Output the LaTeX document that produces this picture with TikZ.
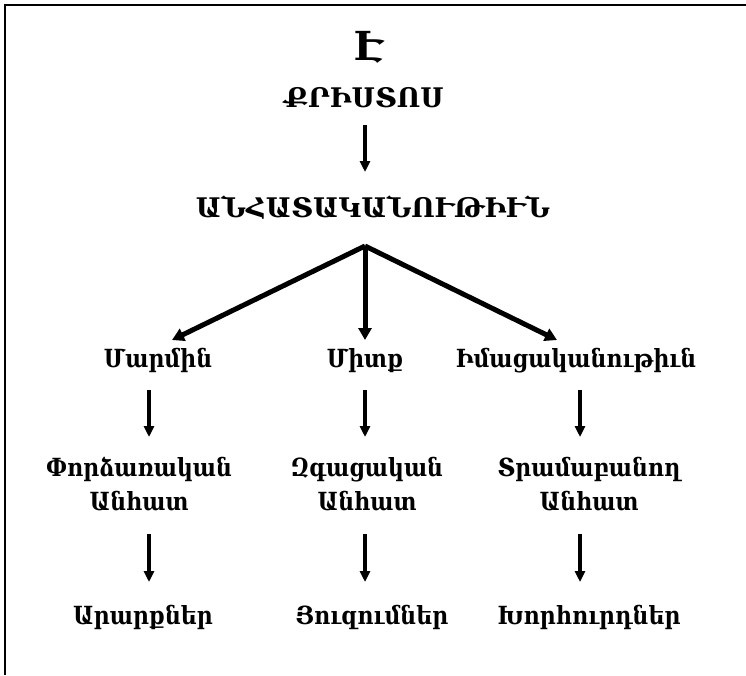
\documentclass[tikz,border=0pt]{standalone}
\usepackage{fontspec}
\setmainfont{DejaVu Serif}
\newfontfamily\rowfont[FakeStretch=0.88]{DejaVu Serif}
\usetikzlibrary{arrows.meta}
\begin{document}
\begin{tikzpicture}[x=1pt,y=-1pt,
  lbl/.style={inner sep=0pt, anchor=base, align=center, font=\rowfont\bfseries\fontsize{25}{34}\selectfont},
  caps/.style={lbl, font=\bfseries\fontsize{27}{32}\selectfont},
  big/.style={lbl, font=\bfseries\fontsize{40}{44}\selectfont},
  arr/.style={line width=3.6pt, -{Triangle[length=11pt,width=10pt]}},
  fork/.style={line width=5pt, -{Triangle[length=12pt,width=13pt]}}]
\useasboundingbox (0,0) rectangle (746,675);
\draw[line width=2.5pt] (5,675) -- (5,5) -- (746,5);
\node[big]  (e)      at (369,60)  {Է};
\node[caps] (christ) at (364,107) {ՔՐԻՍՏՈՍ};
\node[caps] (anh)    at (373,217) {ԱՆՀԱՏԱԿԱՆՈՒԹԻՒՆ};
\node[lbl]  (marmin) at (158,367) {Մարմին};
\node[lbl]  (mitk)   at (365,367) {Միտք};
\node[lbl]  (imac)   at (576,367) {Իմացականութիւն};
\node[lbl]  (pa)     at (139,510) {Փորձառական\\Անհատ};
\node[lbl]  (pb)     at (367,510) {Զգացական\\Անհատ};
\node[lbl]  (pc)     at (589,510) {Տրամաբանող\\Անհատ};
\node[lbl]  (ra)     at (143,624) {Արարքներ};
\node[lbl]  (rb)     at (372,624) {Յուզումներ};
\node[lbl]  (rc)     at (589,624) {Խորհուրդներ};
\draw[arr] ([xshift=1pt,yshift=-18pt]christ.base) -- ([xshift=-8pt,yshift=45pt]anh.base);
\draw[fork] ([xshift=-8pt,yshift=-29pt]anh.base) -- ([xshift=14pt,yshift=27pt]marmin.base);
\draw[fork] ([xshift=-8pt,yshift=-29pt]anh.base) -- ([yshift=27pt]mitk.base);
\draw[fork] ([xshift=-8pt,yshift=-29pt]anh.base) -- ([xshift=-19pt,yshift=27pt]imac.base);
\draw[arr] ([xshift=-9pt,yshift=-23pt]marmin.base) -- ([xshift=10pt,yshift=73pt]pa.base);
\draw[arr] ([yshift=-23pt]mitk.base) -- ([xshift=-2pt,yshift=73pt]pb.base);
\draw[arr] ([xshift=4pt,yshift=-23pt]imac.base) -- ([xshift=-9pt,yshift=73pt]pc.base);
\draw[arr] ([xshift=10pt,yshift=-24pt]pa.base) -- ([xshift=6pt,yshift=42pt]ra.base);
\draw[arr] ([xshift=-2pt,yshift=-24pt]pb.base) -- ([xshift=-7pt,yshift=42pt]rb.base);
\draw[arr] ([xshift=-9pt,yshift=-24pt]pc.base) -- ([xshift=-9pt,yshift=42pt]rc.base);
\end{tikzpicture}
\end{document}
